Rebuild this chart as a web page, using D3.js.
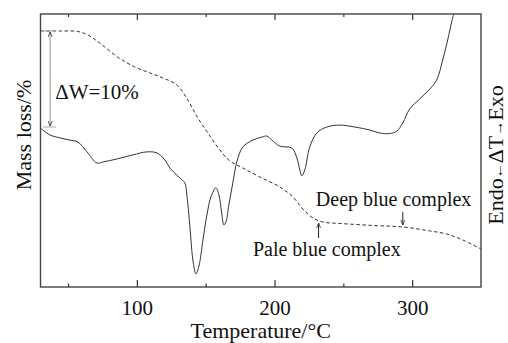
<!DOCTYPE html>
<html>
<head>
<meta charset="utf-8">
<script src="https://cdn.jsdelivr.net/npm/d3@7"></script>
<style>
  body { margin: 0; background: #fff; }
  svg text { font-family: "Liberation Serif", "Times New Roman", serif; fill: #111; }
</style>
</head>
<body>
<div id="chart"></div>
<script>
// TG curve (mass %, dashed)
var tgTemp = [30, 44, 57, 64.5, 73, 86, 98.5, 109.5, 119, 129, 137, 144.3, 151.6, 160.3, 167.6, 177, 189.4, 203.9, 213.3, 220.6, 227.9, 235.1, 247.5, 271.4, 293.2, 312.8, 325.1, 336.7, 350];
var tgMass = [100, 100, 99.95, 99.58, 98.75, 97.29, 96.25, 95.63, 95.1, 94.38, 92.81, 90.94, 89.38, 87.6, 86.46, 85.73, 84.79, 83.75, 82.71, 81.46, 80.52, 80.1, 79.95, 79.74, 79.58, 79.17, 78.85, 78.23, 77.29];

// DTA curve (arbitrary units, solid)
var dtaTemp = [30, 36.9, 44.2, 51.4, 57.2, 63.8, 71, 75.4, 85.5, 97.2, 107.3, 114.6, 120.4, 124, 131.3, 134.9, 136.3, 137.8, 139.3, 140.7, 142.9, 145.1, 148, 150.9, 153.8, 157.4, 159.6, 161.8, 163.2, 164.7, 166.8, 169.7, 172.6, 177, 184.3, 190.8, 194.4, 198.1, 203.9, 212.6, 216.2, 218.4, 219.8, 222, 225.6, 230.7, 238, 247.4, 258.3, 269.2, 276.5, 283.7, 288.8, 293.2, 298.2, 305.5, 312.8, 317.8, 322.2, 325.8, 328.7, 330.2];
var dtaSignal = [58.2, 55.7, 54.6, 53.8, 53.1, 49.5, 45.4, 45.8, 46.9, 48.4, 49.5, 49.1, 46.5, 43.6, 39.9, 38.1, 33.7, 26.4, 17.2, 9.9, 4.8, 7.7, 17.2, 26.4, 33, 36.3, 33.7, 26.4, 22.7, 23.8, 30, 38.1, 45.8, 51.3, 53.8, 54.9, 55.3, 53.8, 51.6, 50.9, 47.3, 42.9, 40.7, 42.9, 51.3, 56.4, 58.6, 59.3, 58.6, 57.5, 56.4, 56.2, 57.1, 60.1, 65.2, 68.9, 72.5, 75.8, 83.2, 90.5, 97.1, 100];

var majorTicks = [100, 200, 300];
var minorTicks = [50, 150, 250];

var width = 508, height = 343;
var pLeft = 40.5, pRight = 481, pTop = 14, pBottom = 287;

var svg = d3.select("#chart").append("svg")
    .attr("width", width)
    .attr("height", height);

var xScale = d3.scaleLinear().domain([30, 350]).range([pLeft, pRight]);
var yTG = d3.scaleLinear().domain([73.33, 101.77]).range([pBottom, pTop]);
var yDTA = d3.scaleLinear().domain([0, 100]).range([pBottom, pTop]);

var defs = svg.append("defs");
defs.append("clipPath").attr("id", "plot-clip")
    .append("rect")
    .attr("x", pLeft).attr("y", pTop)
    .attr("width", pRight - pLeft).attr("height", pBottom - pTop);

// axes with inward ticks
function styleAxis(g) {
    g.select(".domain").remove();
    g.selectAll("line").attr("stroke", "#333").attr("stroke-width", 1.2);
}

svg.append("g")
    .attr("transform", "translate(0," + pBottom + ")")
    .call(d3.axisBottom(xScale).tickValues(majorTicks).tickSize(-7).tickPadding(13))
    .call(styleAxis);

svg.append("g")
    .attr("transform", "translate(0," + pBottom + ")")
    .call(d3.axisBottom(xScale).tickValues(minorTicks).tickSize(-3.5).tickFormat(""))
    .call(styleAxis);

svg.append("g")
    .attr("transform", "translate(0," + pTop + ")")
    .call(d3.axisTop(xScale).tickValues(majorTicks).tickSize(-6).tickFormat(""))
    .call(styleAxis);

svg.append("g")
    .attr("transform", "translate(0," + pTop + ")")
    .call(d3.axisTop(xScale).tickValues(minorTicks).tickSize(-3).tickFormat(""))
    .call(styleAxis);

svg.selectAll(".tick text")
    .attr("font-family", "Liberation Serif")
    .attr("font-size", 21)
    .attr("fill", "#111");

// frame
svg.append("rect")
    .attr("x", pLeft).attr("y", pTop)
    .attr("width", pRight - pLeft).attr("height", pBottom - pTop)
    .attr("fill", "none")
    .attr("stroke", "#444")
    .attr("stroke-width", 1.4);

var plot = svg.append("g").attr("clip-path", "url(#plot-clip)");

var dtaLine = d3.line()
    .x(function(d, i) { return xScale(dtaTemp[i]); })
    .y(function(d) { return yDTA(d); })
    .curve(d3.curveCatmullRom.alpha(0.5));

var tgLine = d3.line()
    .x(function(d, i) { return xScale(tgTemp[i]); })
    .y(function(d) { return yTG(d); })
    .curve(d3.curveCatmullRom.alpha(0.5));

plot.append("path")
    .datum(dtaSignal)
    .attr("d", dtaLine)
    .attr("fill", "none")
    .attr("stroke", "#333")
    .attr("stroke-width", 1);

plot.append("path")
    .datum(tgMass)
    .attr("d", tgLine)
    .attr("fill", "none")
    .attr("stroke", "#333")
    .attr("stroke-width", 1)
    .attr("stroke-dasharray", "3.5,2.5");

// arrowhead marker
defs.append("marker")
    .attr("id", "arr")
    .attr("viewBox", "0 0 10 10")
    .attr("refX", 10).attr("refY", 5)
    .attr("markerWidth", 5).attr("markerHeight", 5)
    .attr("markerUnits", "userSpaceOnUse")
    .attr("orient", "auto-start-reverse")
    .append("path")
    .attr("d", "M0,1 L10,5 L0,9")
    .attr("fill", "none")
    .attr("stroke", "#222")
    .attr("stroke-width", 1.5);

// delta W = 10% marker
var dwX = xScale(37);
var dwTop = yTG(100), dwBot = yTG(90);
svg.append("line")
    .attr("x1", dwX).attr("x2", dwX)
    .attr("y1", dwTop + 1).attr("y2", dwBot - 1)
    .attr("stroke", "#aaa").attr("stroke-width", 1.2)
    .attr("marker-start", "url(#arr)")
    .attr("marker-end", "url(#arr)");
[dwTop, dwBot].forEach(function(y) {
    svg.append("line")
        .attr("x1", dwX - 7).attr("x2", dwX + 6)
        .attr("y1", y).attr("y2", y)
        .attr("stroke", "#aaa").attr("stroke-width", 1);
});
svg.append("text")
    .attr("x", dwX + 5).attr("y", yTG(93) + 1)
    .attr("font-size", 21)
    .text("\u0394W=10%");

// complex labels
svg.append("text")
    .attr("x", xScale(230)).attr("y", 206)
    .attr("font-size", 20)
    .text("Deep blue complex");
svg.append("line")
    .attr("x1", xScale(293.2)).attr("x2", xScale(293.2))
    .attr("y1", 212).attr("y2", yTG(79.58) - 2)
    .attr("stroke", "#222").attr("stroke-width", 1)
    .attr("marker-end", "url(#arr)");

svg.append("text")
    .attr("x", xScale(184.3)).attr("y", 256)
    .attr("font-size", 20)
    .text("Pale blue complex");
svg.append("line")
    .attr("x1", xScale(232)).attr("x2", xScale(232))
    .attr("y1", 238).attr("y2", yTG(80.2) + 2)
    .attr("stroke", "#222").attr("stroke-width", 1)
    .attr("marker-end", "url(#arr)");

// axis titles
svg.append("text")
    .attr("x", (pLeft + pRight) / 2).attr("y", 338)
    .attr("text-anchor", "middle")
    .attr("font-size", 22)
    .text("Temperature/\u00B0C");

svg.append("text")
    .attr("transform", "translate(31,135) rotate(-90)")
    .attr("text-anchor", "middle")
    .attr("font-size", 22)
    .text("Mass loss/%");

var rt = svg.append("text")
    .attr("transform", "translate(503,155) rotate(-90)")
    .attr("text-anchor", "middle")
    .attr("font-size", 22);
rt.append("tspan").text("Endo");
rt.append("tspan").attr("font-size", 15).text("\u2190");
rt.append("tspan").text("\u0394T");
rt.append("tspan").attr("font-size", 15).text("\u2192");
rt.append("tspan").text("Exo");
</script>
</body>
</html>
